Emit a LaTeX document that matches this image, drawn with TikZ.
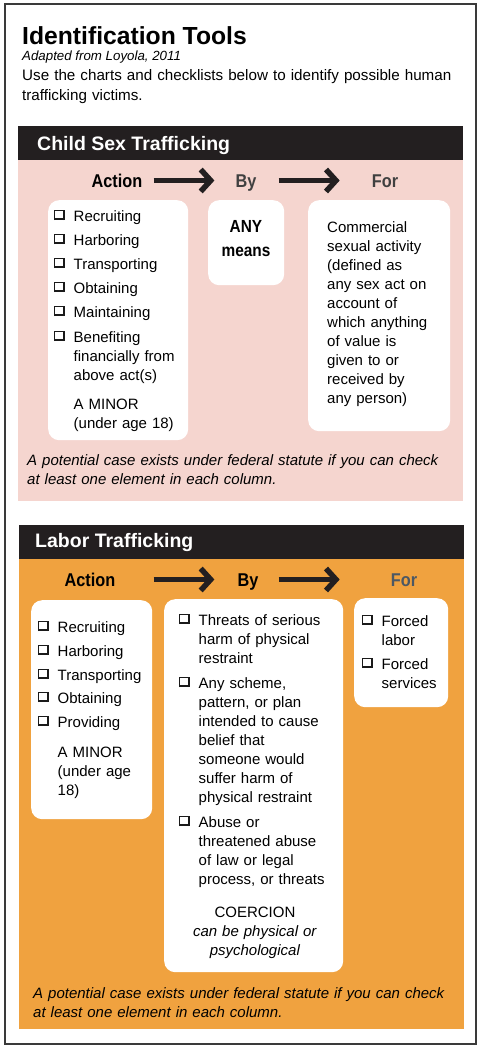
\documentclass[tikz,border=0pt]{standalone}
\usepackage{fontspec}
\setmainfont{Liberation Sans}
\newfontfamily\condfont[FakeStretch=0.88]{Liberation Sans}
\usetikzlibrary{arrows.meta}
\definecolor{pinkbg}{HTML}{F5D5CF}
\definecolor{orangebg}{HTML}{F0A23F}
\definecolor{barblack}{HTML}{231F20}
\definecolor{labgray}{HTML}{404040}
\definecolor{slate}{HTML}{4C5864}
\definecolor{framegray}{HTML}{3A3A3A}
\definecolor{boxink}{HTML}{1A1A1A}
\newcommand\cbx{\raisebox{1pt}{\color{boxink}\hbox{\vrule width1.2pt height10.4pt depth0pt\vbox to 10.4pt{\hrule height1.2pt width7.2pt\vfil\hrule height2.3pt width7.2pt}\vrule width2.3pt height10.4pt depth0pt}}}
\newcommand\itm[1]{\makebox[19.5pt][l]{\cbx}#1}
\newcommand\cnt[1]{\hspace*{19.5pt}#1}
\tikzset{
  frame/.style={draw=framegray, line width=1.6pt},
  bar/.style={fill=barblack, inner sep=0, anchor=north west, minimum width=445pt, minimum height=34pt},
  panel/.style={inner sep=0, anchor=north west, minimum width=445pt},
  barlabel/.style={anchor=base west, inner sep=0, text=white, font=\bfseries\fontsize{19.5}{22}\selectfont},
  collab/.style={anchor=base, inner sep=0, text height=13pt, text depth=0pt, font=\condfont\bfseries\fontsize{18.5}{20}\selectfont},
  flow/.style={draw=barblack, line width=5pt, -{Straight Barb[length=10pt, width=22pt, line width=5.5pt]}},
  wbox/.style={fill=white, rounded corners=11pt, inner sep=0, anchor=north west},
  txt/.style={anchor=base west, inner sep=0, align=left, font=\fontsize{15}{19}\selectfont},
  foot/.style={anchor=base west, inner sep=0, align=left, text width=440pt, font=\itshape\fontsize{15}{19}\selectfont},
}
\begin{document}
\begin{tikzpicture}[x=1pt,y=-1pt]
\useasboundingbox (0,0) rectangle (480,1049);
\fill[white] (0,0) rectangle (480,1049);
\draw[frame] (5,4) rectangle (476,1044);

% title block
\node[anchor=base west, inner sep=0, font=\bfseries\fontsize{24.7}{28}\selectfont] (title) at (22,45) {Identification Tools};
\node[anchor=base west, inner sep=0, font=\itshape\fontsize{13.3}{15}\selectfont] (src) at (22,61) {Adapted from Loyola, 2011};
\node[anchor=base west, inner sep=0, text width=445pt, align=left, font=\fontsize{15.2}{20}\selectfont] (intro) at (22,81) {Use the charts and checklists below to identify possible human\\trafficking victims.};

% ---------- Child Sex Trafficking ----------
\node[bar] (bar1) at (18,126) {};
\node[panel, fill=pinkbg, minimum height=341pt] (sec1) at (18,160) {};
\node[barlabel] (h1) at (37,150) {Child Sex Trafficking};

\node[collab] (act1) at (117,187) {Action};
\node[collab, text=labgray] (by1) at (246,187) {By};
\node[collab, text=labgray] (for1) at (385,187) {For};
\draw[flow, shorten <=11pt, shorten >=21pt] (act1.east) -- (by1.west);
\draw[flow, shorten <=22pt, shorten >=32pt] (by1.east) -- (for1.west);

\node[wbox, minimum width=140pt, minimum height=240pt] (box1a) at (48,200) {};
\node[wbox, minimum width=76pt, minimum height=85pt] (box1b) at (208,200) {};
\node[wbox, minimum width=142pt, minimum height=231pt] (box1c) at (308,200) {};

\node[txt, text width=130pt] (t1a) at (54,221) {\itm{Recruiting}\\[5pt]
\itm{Harboring}\\[5pt]
\itm{Transporting}\\[5pt]
\itm{Obtaining}\\[5pt]
\itm{Maintaining}\\[6pt]
\itm{Benefiting}\\
\cnt{financially from}\\
\cnt{above act(s)}\\[10pt]
\cnt{A MINOR}\\
\cnt{(under age 18)}};

\node[anchor=base, inner sep=0, text width=70pt, align=center, font=\condfont\bfseries\fontsize{17.5}{24}\selectfont] (t1b) at (246,232) {ANY\\means};

\node[txt, text width=135pt] (t1c) at (327,232) {Commercial\\sexual activity\\(defined as\\any sex act on\\account of\\which anything\\of value is\\given to or\\received by\\any person)};

\node[foot] (f1) at (27,465) {A potential case exists under federal statute if you can check\\at least one element in each column.};

% ---------- Labor Trafficking ----------
\node[bar] (bar2) at (19,525) {};
\node[panel, fill=orangebg, minimum height=470pt] (sec2) at (19,559) {};
\node[barlabel] (h2) at (35,547) {Labor Trafficking};

\node[collab] (act2) at (90,586) {Action};
\node[collab] (by2) at (248,586) {By};
\node[collab, text=slate] (for2) at (404,586) {For};
\draw[flow, shorten <=38pt, shorten >=23pt] (act2.east) -- (by2.west);
\draw[flow, shorten <=20pt, shorten >=51pt] (by2.east) -- (for2.west);

\node[wbox, minimum width=121pt, minimum height=219pt] (box2a) at (31,600) {};
\node[wbox, minimum width=179pt, minimum height=373pt] (box2b) at (164,599) {};
\node[wbox, minimum width=94pt, minimum height=109pt] (box2c) at (354,598) {};

\node[txt, text width=110pt] (t2a) at (38,632) {\itm{Recruiting}\\[5pt]
\itm{Harboring}\\[5pt]
\itm{Transporting}\\[4pt]
\itm{Obtaining}\\[5pt]
\itm{Providing}\\[11pt]
\cnt{A MINOR}\\
\cnt{(under age}\\
\cnt{18)}};

\node[txt, text width=165pt] (t2b) at (179,625) {\itm{Threats of serious}\\
\cnt{harm of physical}\\
\cnt{restraint}\\[6pt]
\itm{Any scheme,}\\
\cnt{pattern, or plan}\\
\cnt{intended to cause}\\
\cnt{belief that}\\
\cnt{someone would}\\
\cnt{suffer harm of}\\
\cnt{physical restraint}\\[6pt]
\itm{Abuse or}\\
\cnt{threatened abuse}\\
\cnt{of law or legal}\\
\cnt{process, or threats}};

\node[anchor=base, inner sep=0, text width=170pt, align=center, font=\fontsize{15}{19}\selectfont] (coer) at (255,917) {COERCION\\\textit{can be physical or}\\\textit{psychological}};

\node[txt, text width=85pt] (t2c) at (362,626) {\itm{Forced}\\
\cnt{labor}\\[5pt]
\itm{Forced}\\
\cnt{services}};

\node[foot] (f2) at (33,998) {A potential case exists under federal statute if you can check\\at least one element in each column.};
\end{tikzpicture}
\end{document}
